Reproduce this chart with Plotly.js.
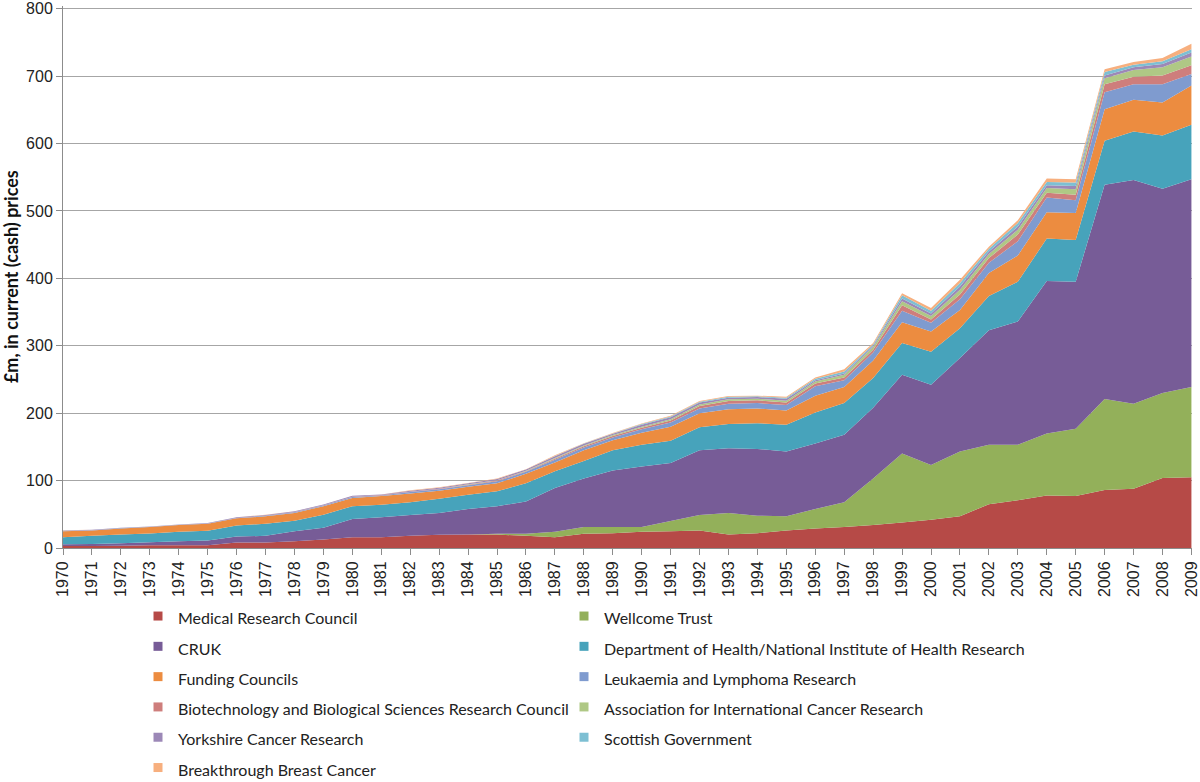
<!DOCTYPE html>
<html>
<head>
<meta charset="utf-8">
<script src="https://cdn.plot.ly/plotly-3.0.1.min.js"></script>
<style>html,body{margin:0;padding:0;background:#fff;}#chart{width:1200px;height:782px;}</style>
</head>
<body>
<div id="chart"></div>
<script>
var years = [1970,1971,1972,1973,1974,1975,1976,1977,1978,1979,1980,1981,1982,1983,1984,1985,1986,1987,1988,1989,1990,1991,1992,1993,1994,1995,1996,1997,1998,1999,2000,2001,2002,2003,2004,2005,2006,2007,2008,2009];

var medicalResearchCouncil = [3,3,3.5,4,4,4,8,8,10,12.5,16,16,18,19.5,20,20,18,16,21,22,24,25,26,20,22,26,29,31,34,38,42,47,65,71,78,77,86,88,104,105];
var wellcomeTrust = [0,0,0,0,0,0,0,0,0,0,0,0,0,0,0,1,3,8,10,9,7,15,23,32,26,21,29,37,69,102,81,96,88,82,92,100,135,126,126,134];
var cruk = [2.5,3,3.5,4.5,6,7,9,10,15,17.5,27,29.5,31,32.5,38,41,48,65,72,84,90,86,96,96,99,96,97,100,105,117,119,139,170,183,226,218,318,332,303,308];
var deptHealthNIHR = [10.5,12,13,13,14,14.5,16.5,18,15.5,19.5,19,18.5,19,21,21,22,27,25,26,30,32,33,34,36,38,40,46,47,44,47,49,44,51,59,63,62,65,72,79,81];
var fundingCouncils = [9,8,9,9.5,10,10.5,10.5,11,11.5,12.5,12,13,13,12,12,12,14,13,16,15,18,21,21,22,22,21,25,24,26,31,30,27,34,39,39,40,47,47,49,58];
var leukaemiaLymphoma = [0.5,0.5,0.5,0.5,0.5,0.5,0.5,1,1,1,1.5,1,2,2,2,3,3,4,4,4,5,6,7,8,8,8,14,10,12,17,13,16,15,21,22,19,25,23,27,17];
var bbsrc = [0,0,0,0,0,0,0,0,0.5,0.5,0.5,0.5,0.5,1,1,1,1,1.5,2,2,2.5,3,3.5,4,4,4,4,4,4,8,5,7,7,10,7,8,12,11,13,13];
var aicr = [0,0,0,0,0,0,0,0,0,0,0,0,0,0,0.5,0.5,0.5,1,1,1.5,1.5,2,2.5,2.5,2.5,2.5,3,4,4,6,5,7,6,7,7,8,9,10,12,13];
var yorkshire = [0.5,0.5,0.5,0.5,0.5,0.5,1,1,1,1,1.5,1,1.5,1.5,1.5,2,2,2.5,2.5,2,3,3,3,2.5,2.5,3,2,2,2,4,4,5,4,5,4,5,4,4,5,6];
var scottishGov = [0,0,0,0,0,0,0,0,0,0,0,0,0,0,0,0,0,0.5,0.5,0.5,1,1,1,1.5,1,1.5,2,3,2,5,4,5,4,5,5,5,5,4,4,5];
var breakthrough = [0.5,0,0,0,0,0,0,0.5,0,0,0,0,0.5,0.5,0.5,0.5,0.5,1,0.5,0.5,0.5,1,1,1,1,1.5,2,3,2,3,4,5,3,4,5,5,4,4,5,8];

var seriesNames = [
  "Medical Research Council",
  "Wellcome Trust",
  "CRUK",
  "Department of Health/National Institute of Health Research",
  "Funding Councils",
  "Leukaemia and Lymphoma Research",
  "Biotechnology and Biological Sciences Research Council",
  "Association for International Cancer Research",
  "Yorkshire Cancer Research",
  "Scottish Government",
  "Breakthrough Breast Cancer"
];
var yAxisTitle = "£m, in current (cash) prices";
var seriesValues = [medicalResearchCouncil, wellcomeTrust, cruk, deptHealthNIHR, fundingCouncils, leukaemiaLymphoma, bbsrc, aicr, yorkshire, scottishGov, breakthrough];
var seriesColors = ["#B64A47","#93B05A","#775C97","#47A3BB","#EC8C40","#7F9BCF","#CE7E7C","#AFC885","#9C88B7","#7DBFD3","#F7AF7E"];

var traces = [];
seriesValues.forEach(function(vals, i){
  traces.push({
    type: "scatter", x: years, y: vals, stackgroup: "one", mode: "none",
    fillcolor: seriesColors[i], name: seriesNames[i], showlegend: false,
    hoverinfo: "x+y+name"
  });
});
// legend entries in two columns (row-major order as in the original)
seriesNames.forEach(function(n, i){
  traces.push({
    type: "scatter", x: [null], y: [null], mode: "markers",
    marker: {symbol: "square", size: 9, color: seriesColors[i]},
    name: '<span style="font-size:16px">' + n + '</span>', showlegend: true,
    legend: (i % 2 === 0) ? "legend" : "legend2"
  });
});

var tickFont = {family: "Liberation Sans, Arial, sans-serif", size: 16, color: "#222"};
var legendBase = {
  orientation: "v", xref: "container", yref: "container",
  xanchor: "left", y: 0.238, yanchor: "top", traceorder: "normal",
  tracegroupgap: 0,
  font: {family: "Lato, sans-serif", size: 21, color: "#222"},
  bgcolor: "rgba(0,0,0,0)", itemclick: false
};
var layout = {
  width: 1200, height: 782,
  margin: {l: 63, r: 8, t: 6, b: 234, autoexpand: false},
  paper_bgcolor: "#fff", plot_bgcolor: "#fff",
  font: {family: "Lato, sans-serif", color: "#222"},
  xaxis: {
    range: [1970, 2009.02], tickmode: "linear", tick0: 1970, dtick: 1,
    tickangle: -90, tickfont: tickFont, showgrid: false, zeroline: false,
    showline: true, linecolor: "#8c8c8c", linewidth: 1,
    ticks: "outside", ticklen: 6, tickcolor: "#8c8c8c"
  },
  yaxis: {
    range: [0, 804], tickmode: "linear", tick0: 0, dtick: 100,
    tickfont: tickFont, showgrid: true, gridcolor: "#a6a6a6", gridwidth: 1,
    zeroline: false, showline: true, linecolor: "#8c8c8c", linewidth: 1,
    ticks: "outside", ticklen: 6, tickcolor: "#8c8c8c"
  },
  annotations: [{
    text: "<b>" + yAxisTitle + "</b>", textangle: -90, showarrow: false,
    xref: "paper", yref: "paper", x: -0.046, y: 0.5, xanchor: "center", yanchor: "middle",
    font: {family: "Lato, sans-serif", size: 18, color: "#111"}
  }],
  showlegend: true,
  legend: Object.assign({}, legendBase, {x: 0.115}),
  legend2: Object.assign({}, legendBase, {x: 0.47})
};

Plotly.newPlot("chart", traces, layout, {displayModeBar: false, staticPlot: true});
</script>
</body>
</html>
